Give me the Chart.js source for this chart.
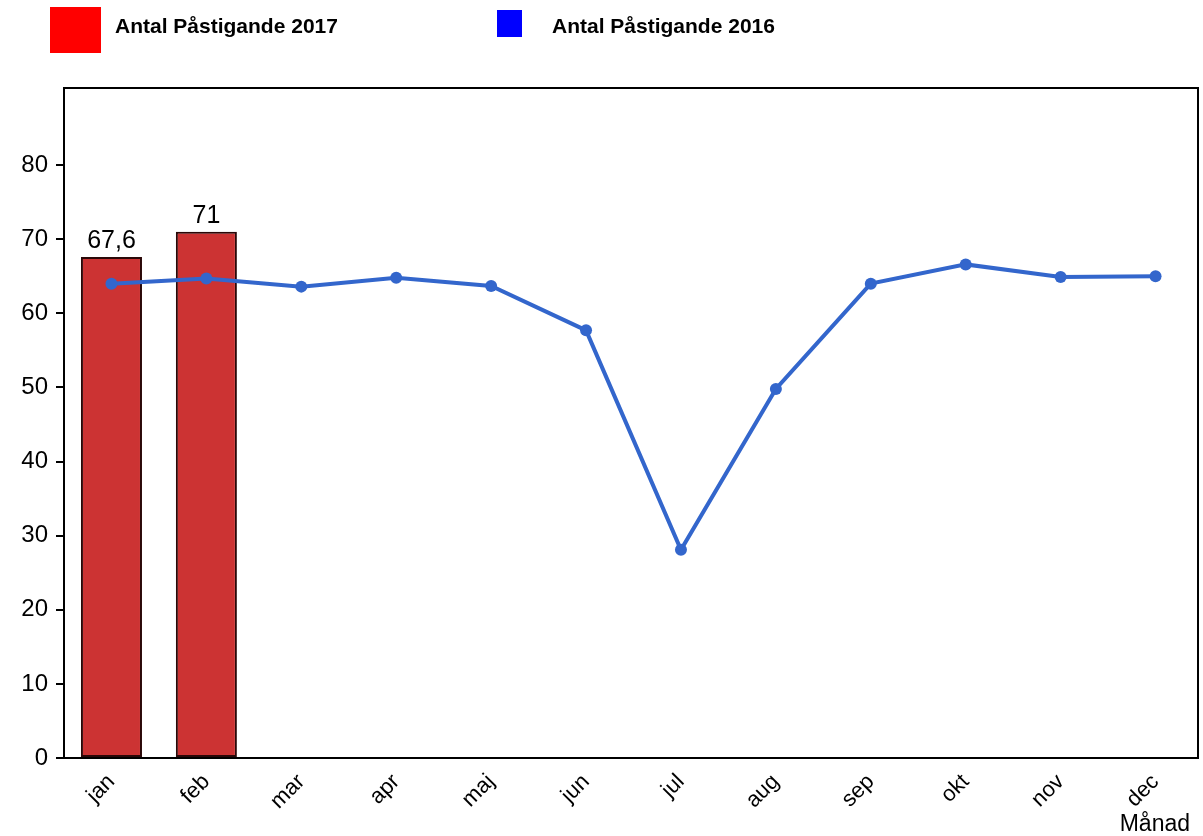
<!DOCTYPE html>
<html>
<head>
<meta charset="utf-8">
<script src="https://cdn.jsdelivr.net/npm/chart.js@4"></script>
<style>
  body { margin: 0; background: #fff; font-family: "Liberation Sans", Arial, sans-serif; }
  #wrap { position: relative; width: 1203px; height: 836px; }
  .sw { position: absolute; }
  .lbl { position: absolute; font-weight: bold; font-size: 21px; color: #000; line-height: 24px; }
</style>
</head>
<body>
<div id="wrap">
  <div class="sw" style="left:50px;top:7px;width:51px;height:46px;background:#ff0000"></div>
  <div class="lbl" style="left:115px;top:14px">Antal Påstigande 2017</div>
  <div class="sw" style="left:497px;top:10px;width:25px;height:27px;background:#0000ff"></div>
  <div class="lbl" style="left:552px;top:14px">Antal Påstigande 2016</div>
  <canvas id="myChart" width="1203" height="836"></canvas>
</div>
<script>
const months = ["jan", "feb", "mar", "apr", "maj", "jun", "jul", "aug", "sep", "okt", "nov", "dec"];
const antal2017 = [67.6, 71];
const antal2016 = [64.0, 64.7, 63.6, 64.8, 63.7, 57.7, 28.1, 49.8, 64.0, 66.6, 64.9, 65.0];
const yTicks = [0, 10, 20, 30, 40, 50, 60, 70, 80];

// svart ram runt ritytan + axeltitel
const boxPlugin = {
  id: "box",
  afterDraw(chart) {
    const a = chart.chartArea;
    const ctx = chart.ctx;
    const right = chart.width - 5;
    ctx.save();
    ctx.strokeStyle = "#000";
    ctx.lineWidth = 2;
    ctx.strokeRect(a.left, a.top, right - a.left, a.bottom - a.top);
    ctx.fillStyle = "#000";
    ctx.font = "23px 'Liberation Sans', Arial";
    ctx.textAlign = "right";
    ctx.textBaseline = "alphabetic";
    ctx.fillText("Månad", right - 8, 831);
    ctx.restore();
  },
};

// värden ovanför staplarna
const barLabels = {
  id: "barLabels",
  afterDatasetsDraw(chart) {
    const ctx = chart.ctx;
    const meta = chart.getDatasetMeta(1);
    ctx.save();
    ctx.font = "25px 'Liberation Sans', Arial";
    ctx.fillStyle = "#000";
    ctx.textAlign = "center";
    ctx.textBaseline = "bottom";
    meta.data.forEach(function (bar, i) {
      const v = chart.data.datasets[1].data[i];
      ctx.fillText(String(v).replace(".", ","), bar.x, bar.y - 3);
    });
    ctx.restore();
  },
};

const myChart = new Chart(document.getElementById("myChart"), {
  type: "bar",
  data: {
    labels: months,
    datasets: [
      {
        type: "line",
        label: "Antal Påstigande 2016",
        data: antal2016,
        borderColor: "#3366cc",
        backgroundColor: "#3366cc",
        borderWidth: 4,
        pointRadius: 6,
        pointBorderWidth: 0,
        pointBackgroundColor: "#3366cc",
        tension: 0,
        order: 0,
      },
      {
        label: "Antal Påstigande 2017",
        data: antal2017,
        backgroundColor: "#cc3333",
        borderColor: "#2a0808",
        borderWidth: 2,
        borderSkipped: false,
        categoryPercentage: 1,
        barPercentage: 0.643,
        order: 1,
      },
    ],
  },
  options: {
    responsive: false,
    animation: false,
    layout: { autoPadding: false, padding: { top: 88, right: 0, left: 0, bottom: 0 } },
    scales: {
      x: {
        offset: true,
        grid: { display: false },
        border: { display: false },
        ticks: {
          color: "#000",
          font: { size: 22, family: "'Liberation Sans', Arial" },
          maxRotation: 45,
          minRotation: 45,
          padding: 3,
        },
        afterFit: function (scale) {
          scale.height = 78;
          scale.paddingLeft = 0;
          scale.paddingRight = 0;
        },
      },
      y: {
        min: 0,
        max: 90.4,
        grid: {
          drawOnChartArea: false,
          drawTicks: true,
          tickLength: 8,
          color: "#000",
          lineWidth: 2,
        },
        border: { display: false },
        ticks: {
          color: "#000",
          font: { size: 24, family: "'Liberation Sans', Arial" },
          padding: 8,
        },
        afterBuildTicks: function (scale) {
          scale.ticks = yTicks.map(function (v) { return { value: v }; });
        },
        afterFit: function (scale) {
          scale.width = 64;
        },
      },
    },
    plugins: {
      legend: { display: false },
      tooltip: { enabled: false },
    },
  },
  plugins: [boxPlugin, barLabels],
});
</script>
</body>
</html>
